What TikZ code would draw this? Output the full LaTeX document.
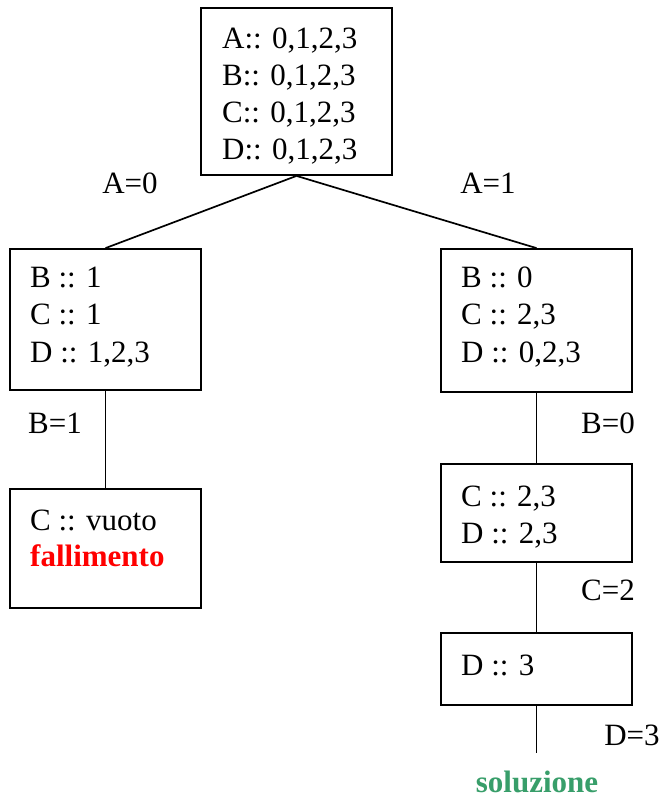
\documentclass[tikz,border=0pt]{standalone}
\usepackage{fontspec}
\setmainfont{Liberation Serif}
\definecolor{failred}{RGB}{255,0,0}
\definecolor{solgreen}{RGB}{56,158,106}
\begin{document}
\begin{tikzpicture}[x=1pt,y=-1pt,
  box/.style={draw, line width=1.8pt, inner sep=0pt, minimum width=191pt},
  txt/.style={anchor=base west, inner sep=0pt, font=\fontsize{31}{37}\selectfont},
  lbl/.style={inner sep=0pt, font=\fontsize{31}{37}\selectfont},
  conn/.style={line width=1.7pt}]
\useasboundingbox (0,0) rectangle (661,798);
% boxes
\node[box, minimum height=167pt] (top) at (296.5,91.5) {};
\node[box, minimum height=141pt] (lb) at (105.5,319.5) {};
\node[box, minimum height=143pt] (rb) at (536.5,320.5) {};
\node[box, minimum height=119pt] (lc) at (105.5,548.5) {};
\node[box, minimum height=98pt] (rc) at (536.5,513) {};
\node[box, minimum height=72pt] (rd) at (536.5,669) {};
% texts top
\node[txt] (t1) at (222,48) {A:: 0,1,2,3};
\node[txt] (t2) at (222,85) {B:: 0,1,2,3};
\node[txt] (t3) at (222,122) {C:: 0,1,2,3};
\node[txt] (t4) at (222,159) {D:: 0,1,2,3};
% left B
\node[txt] (l1) at (30,287) {B :: 1};
\node[txt] (l2) at (30,324) {C :: 1};
\node[txt] (l3) at (30,362) {D :: 1,2,3};
% right B
\node[txt] (r1) at (461,287) {B :: 0};
\node[txt] (r2) at (461,324) {C :: 2,3};
\node[txt] (r3) at (461,362) {D :: 0,2,3};
% left C
\node[txt] (c1) at (30,530) {C :: vuoto};
\node[txt, text=failred, font=\fontsize{31}{37}\selectfont\bfseries] (c2) at (30,566) {fallimento};
% right C
\node[txt] (rc1) at (461,506) {C :: 2,3};
\node[txt] (rc2) at (461,543) {D :: 2,3};
% right D
\node[txt] (rd1) at (461,675) {D :: 3};
% connectors
\coordinate (endp) at (536.5,753);
\draw[conn] (top.south) -- (lb.north);
\draw[conn] (top.south) -- (rb.north);
\draw[conn] (lb.south) -- (lc.north);
\draw[conn] (rb.south) -- (rc.north);
\draw[conn] (rc.south) -- (rd.north);
\draw[conn] (rd.south) -- (endp);
% labels
\node[lbl] (a0) at (130,183) {A=0};
\node[lbl] (a1) at (488,183) {A=1};
\node[lbl] (b1) at (55,423) {B=1};
\node[lbl] (b0) at (608,423) {B=0};
\node[lbl] (c2l) at (608,590) {C=2};
\node[lbl] (d3) at (632,735) {D=3};
\node[lbl, text=solgreen, font=\fontsize{31}{37}\selectfont\bfseries] (sol) at (537,782) {soluzione};
\end{tikzpicture}
\end{document}
